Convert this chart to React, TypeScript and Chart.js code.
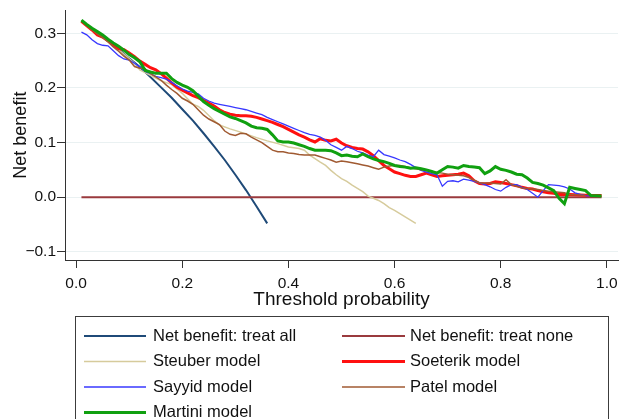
import React, { useEffect, useRef } from 'react';
import { Chart, registerables } from 'chart.js';

Chart.register(...registerables);

const FONT = '"Liberation Sans", Arial, Helvetica, sans-serif';

const xTicks = [0, 0.2, 0.4, 0.6, 0.8, 1.0];
const yTicks = [-0.1, 0, 0.1, 0.2, 0.3];
const xTitle = 'Threshold probability';
const yTitle = 'Net benefit';

const seriesLabels = [
  'Net benefit: treat all',
  'Net benefit: treat none',
  'Steuber model',
  'Soeterik model',
  'Sayyid model',
  'Patel model',
  'Martini model',
];

const treatAll: [number, number][] = [
  [0.01, 0.322], [0.02, 0.315], [0.04, 0.301], [0.06, 0.286], [0.08, 0.271], [0.10, 0.254],
  [0.12, 0.238], [0.14, 0.220], [0.16, 0.201], [0.18, 0.182], [0.20, 0.161], [0.22, 0.140],
  [0.24, 0.117], [0.26, 0.093], [0.28, 0.068], [0.30, 0.041], [0.32, 0.013], [0.34, -0.017],
  [0.36, -0.048],
];

const treatNone: [number, number][] = [[0.01, 0], [0.99, 0]];

const steuber: [number, number][] = [
  [0.01, 0.322], [0.03, 0.308], [0.05, 0.292], [0.07, 0.278], [0.09, 0.262], [0.11, 0.245],
  [0.12, 0.233], [0.13, 0.228], [0.15, 0.218], [0.16, 0.213], [0.18, 0.206], [0.19, 0.198],
  [0.20, 0.190], [0.22, 0.170], [0.23, 0.166], [0.24, 0.159], [0.26, 0.140], [0.27, 0.132],
  [0.29, 0.125], [0.31, 0.119], [0.34, 0.109], [0.36, 0.103], [0.38, 0.098], [0.40, 0.092],
  [0.42, 0.089], [0.43, 0.086], [0.44, 0.077], [0.46, 0.064], [0.47, 0.058], [0.48, 0.049],
  [0.49, 0.041], [0.50, 0.034], [0.51, 0.029], [0.52, 0.022], [0.53, 0.016], [0.54, 0.010],
  [0.55, 0.002], [0.56, -0.002], [0.57, -0.006], [0.58, -0.012], [0.59, -0.019], [0.60, -0.024],
  [0.61, -0.030], [0.62, -0.036], [0.63, -0.042], [0.64, -0.048],
];

const soeterik: [number, number][] = [
  [0.01, 0.322], [0.03, 0.306], [0.04, 0.297], [0.05, 0.293], [0.06, 0.287], [0.07, 0.279],
  [0.08, 0.272], [0.09, 0.270], [0.10, 0.264], [0.11, 0.257], [0.12, 0.249], [0.13, 0.243],
  [0.14, 0.237], [0.15, 0.233], [0.16, 0.226], [0.17, 0.218], [0.18, 0.209], [0.19, 0.201],
  [0.20, 0.196], [0.21, 0.191], [0.22, 0.186], [0.23, 0.182], [0.24, 0.177], [0.25, 0.172],
  [0.26, 0.167], [0.27, 0.160], [0.28, 0.155], [0.29, 0.152], [0.30, 0.150], [0.31, 0.149],
  [0.32, 0.149], [0.33, 0.148], [0.34, 0.146], [0.35, 0.143], [0.36, 0.140], [0.37, 0.137],
  [0.38, 0.133], [0.39, 0.129], [0.40, 0.124], [0.41, 0.119], [0.42, 0.114], [0.43, 0.110],
  [0.44, 0.105], [0.45, 0.101], [0.46, 0.107], [0.47, 0.104], [0.48, 0.103], [0.49, 0.106],
  [0.50, 0.099], [0.51, 0.094], [0.52, 0.091], [0.53, 0.089], [0.54, 0.088], [0.55, 0.083],
  [0.56, 0.076], [0.57, 0.067], [0.58, 0.058], [0.59, 0.052], [0.60, 0.046], [0.61, 0.043],
  [0.62, 0.040], [0.63, 0.038], [0.64, 0.038], [0.65, 0.041], [0.66, 0.044], [0.67, 0.041],
  [0.68, 0.038], [0.69, 0.039], [0.70, 0.040], [0.71, 0.041], [0.72, 0.042], [0.73, 0.044],
  [0.74, 0.039], [0.75, 0.030], [0.76, 0.025], [0.77, 0.024], [0.78, 0.025], [0.79, 0.028],
  [0.80, 0.027], [0.81, 0.025], [0.82, 0.023], [0.83, 0.021], [0.84, 0.018], [0.85, 0.016],
  [0.86, 0.015], [0.87, 0.012], [0.88, 0.010], [0.89, 0.008], [0.90, 0.007], [0.91, 0.005],
  [0.93, 0.005], [0.95, 0.004], [0.97, 0.003], [0.99, 0.003],
];

const sayyid: [number, number][] = [
  [0.01, 0.302], [0.02, 0.297], [0.03, 0.288], [0.04, 0.281], [0.05, 0.278], [0.06, 0.277],
  [0.07, 0.268], [0.08, 0.259], [0.09, 0.253], [0.10, 0.251], [0.11, 0.245], [0.12, 0.238],
  [0.13, 0.230], [0.14, 0.226], [0.15, 0.221], [0.16, 0.219], [0.17, 0.216], [0.18, 0.210],
  [0.19, 0.204], [0.20, 0.198], [0.21, 0.194], [0.22, 0.192], [0.23, 0.189], [0.24, 0.181],
  [0.25, 0.176], [0.26, 0.172], [0.27, 0.170], [0.28, 0.168], [0.29, 0.166], [0.30, 0.164],
  [0.31, 0.162], [0.32, 0.160], [0.33, 0.157], [0.34, 0.154], [0.35, 0.151], [0.36, 0.146],
  [0.37, 0.142], [0.38, 0.138], [0.39, 0.134], [0.40, 0.130], [0.41, 0.126], [0.42, 0.122],
  [0.43, 0.118], [0.44, 0.115], [0.45, 0.113], [0.46, 0.110], [0.47, 0.104], [0.48, 0.096],
  [0.49, 0.091], [0.50, 0.086], [0.51, 0.093], [0.52, 0.089], [0.53, 0.084], [0.54, 0.081],
  [0.55, 0.077], [0.56, 0.074], [0.57, 0.086], [0.58, 0.078], [0.59, 0.075], [0.60, 0.072],
  [0.61, 0.068], [0.62, 0.065], [0.63, 0.060], [0.64, 0.054], [0.65, 0.049], [0.66, 0.046],
  [0.67, 0.043], [0.68, 0.041], [0.69, 0.020], [0.70, 0.029], [0.71, 0.030], [0.72, 0.028],
  [0.73, 0.033], [0.74, 0.031], [0.75, 0.029], [0.76, 0.026], [0.77, 0.023], [0.78, 0.019],
  [0.79, 0.014], [0.80, 0.011], [0.81, 0.018], [0.82, 0.023], [0.83, 0.023], [0.84, 0.018],
  [0.85, 0.014], [0.86, 0.007], [0.87, 0.000], [0.88, 0.012], [0.89, 0.023], [0.90, 0.022],
  [0.91, 0.021], [0.92, 0.019], [0.93, 0.015], [0.94, 0.008], [0.95, 0.005], [0.96, 0.003],
  [0.97, 0.002],
];

const patel: [number, number][] = [
  [0.01, 0.322], [0.03, 0.306], [0.04, 0.299], [0.05, 0.292], [0.06, 0.284], [0.07, 0.275],
  [0.08, 0.267], [0.09, 0.258], [0.10, 0.251], [0.11, 0.239], [0.12, 0.236], [0.13, 0.235],
  [0.14, 0.226], [0.15, 0.220], [0.16, 0.214], [0.17, 0.205], [0.18, 0.197], [0.19, 0.190],
  [0.20, 0.181], [0.21, 0.176], [0.22, 0.170], [0.23, 0.160], [0.24, 0.150], [0.25, 0.143],
  [0.26, 0.138], [0.27, 0.133], [0.28, 0.121], [0.29, 0.115], [0.30, 0.113], [0.31, 0.117],
  [0.32, 0.116], [0.33, 0.110], [0.34, 0.105], [0.35, 0.100], [0.36, 0.093], [0.37, 0.086],
  [0.38, 0.083], [0.39, 0.083], [0.40, 0.081], [0.41, 0.080], [0.42, 0.078], [0.43, 0.077],
  [0.44, 0.077], [0.45, 0.077], [0.46, 0.074], [0.47, 0.071], [0.48, 0.068], [0.49, 0.064],
  [0.50, 0.066], [0.51, 0.065], [0.52, 0.063], [0.53, 0.061], [0.54, 0.059], [0.55, 0.057],
  [0.56, 0.054], [0.57, 0.051], [0.58, 0.055], [0.59, 0.057], [0.60, 0.058], [0.61, 0.058],
  [0.62, 0.056], [0.63, 0.054], [0.64, 0.052], [0.65, 0.050], [0.66, 0.049], [0.67, 0.047],
  [0.68, 0.045], [0.69, 0.044], [0.70, 0.042], [0.71, 0.041], [0.72, 0.040], [0.73, 0.039],
  [0.74, 0.036], [0.75, 0.031], [0.76, 0.026], [0.77, 0.026], [0.78, 0.026], [0.79, 0.025],
  [0.80, 0.024], [0.81, 0.032], [0.82, 0.023], [0.83, 0.020], [0.84, 0.017], [0.85, 0.016],
  [0.86, 0.015], [0.87, 0.014], [0.88, 0.012], [0.89, 0.011], [0.90, 0.010], [0.92, 0.008],
  [0.93, 0.005], [0.95, 0.004], [0.96, 0.003],
];

const martini: [number, number][] = [
  [0.01, 0.324], [0.02, 0.316], [0.03, 0.309], [0.04, 0.303], [0.05, 0.297], [0.06, 0.289],
  [0.07, 0.282], [0.08, 0.276], [0.09, 0.269], [0.10, 0.261], [0.11, 0.255], [0.12, 0.248],
  [0.13, 0.232], [0.14, 0.229], [0.15, 0.227], [0.16, 0.227], [0.17, 0.227], [0.18, 0.217],
  [0.19, 0.210], [0.20, 0.205], [0.21, 0.201], [0.22, 0.195], [0.23, 0.185], [0.24, 0.175],
  [0.25, 0.168], [0.26, 0.162], [0.27, 0.157], [0.28, 0.152], [0.29, 0.147], [0.30, 0.144],
  [0.31, 0.140], [0.32, 0.136], [0.33, 0.130], [0.34, 0.127], [0.35, 0.126], [0.36, 0.124],
  [0.37, 0.114], [0.38, 0.103], [0.39, 0.101], [0.40, 0.101], [0.41, 0.099], [0.42, 0.096],
  [0.43, 0.093], [0.44, 0.089], [0.45, 0.086], [0.46, 0.086], [0.47, 0.086], [0.48, 0.085],
  [0.49, 0.081], [0.50, 0.076], [0.51, 0.077], [0.52, 0.075], [0.53, 0.074], [0.54, 0.079],
  [0.55, 0.074], [0.56, 0.070], [0.57, 0.067], [0.58, 0.065], [0.59, 0.062], [0.60, 0.058],
  [0.61, 0.056], [0.62, 0.055], [0.63, 0.053], [0.64, 0.054], [0.65, 0.052], [0.66, 0.050],
  [0.67, 0.047], [0.68, 0.044], [0.69, 0.050], [0.70, 0.056], [0.71, 0.055], [0.72, 0.053],
  [0.73, 0.058], [0.74, 0.056], [0.75, 0.055], [0.76, 0.054], [0.77, 0.043], [0.78, 0.048],
  [0.79, 0.056], [0.80, 0.051], [0.81, 0.049], [0.82, 0.046], [0.83, 0.042], [0.84, 0.041],
  [0.85, 0.035], [0.86, 0.027], [0.87, 0.025], [0.88, 0.022], [0.89, 0.017], [0.90, 0.012],
  [0.91, -0.002], [0.92, -0.012], [0.93, 0.018], [0.94, 0.016], [0.95, 0.014], [0.96, 0.012],
  [0.97, 0.003], [0.99, 0.002],
];

const seriesData = [treatAll, treatNone, steuber, soeterik, sayyid, patel, martini];
const seriesColors = ['#1f4a78', '#9a3a3e', '#d6cb9c', '#ff1010', '#3838ff', '#a05a32', '#10a010'];
const seriesWidths = [2, 2, 1.5, 3, 1.3, 1.5, 3];

const fmt = (v: number) => {
  const r = Math.round(v * 10) / 10;
  if (r < 0) return '\u2212' + Math.abs(r).toFixed(1);
  return Math.abs(r).toFixed(1);
};

const legendPlugin = {
  id: 'boxLegend',
  afterDraw(chart: any) {
    const ctx = chart.ctx as CanvasRenderingContext2D;
    ctx.save();
    ctx.strokeStyle = '#3c3c3c';
    ctx.lineWidth = 1;
    ctx.strokeRect(75.5, 316.5, 533, 120);
    const cols = [
      { l0: 84, l1: 146, tx: 153 },
      { l0: 342, l1: 405, tx: 410 },
    ];
    const rows = [336, 361.5, 387, 412.5];
    chart.data.datasets.forEach((ds: any, i: number) => {
      const c = cols[i % 2];
      const y = rows[Math.floor(i / 2)];
      ctx.strokeStyle = ds.borderColor;
      ctx.lineWidth = ds.borderWidth;
      ctx.beginPath();
      ctx.moveTo(c.l0, y);
      ctx.lineTo(c.l1, y);
      ctx.stroke();
      ctx.fillStyle = '#111';
      ctx.font = `16.5px ${FONT}`;
      ctx.textAlign = 'left';
      ctx.textBaseline = 'middle';
      ctx.fillText(ds.label, c.tx, y);
    });
    ctx.restore();
  },
};

export default function App() {
  const ref = useRef<HTMLCanvasElement | null>(null);

  useEffect(() => {
    if (!ref.current) return;
    const datasets = seriesData.map((d, i) => ({
      label: seriesLabels[i],
      data: d.map(([x, y]) => ({ x, y })),
      borderColor: seriesColors[i],
      backgroundColor: seriesColors[i],
      borderWidth: seriesWidths[i],
      pointRadius: 0,
      tension: 0,
      fill: false,
      order: seriesData.length - i,
    }));
    const chart = new Chart(ref.current, {
      type: 'line',
      data: { datasets },
      options: {
        responsive: false,
        animation: false,
        devicePixelRatio: 1,
        layout: { autoPadding: false, padding: { left: 0, top: 6, right: 11, bottom: 100 } },
        plugins: { legend: { display: false }, tooltip: { enabled: false } },
        scales: {
          x: {
            type: 'linear',
            min: -0.021,
            max: 1.021,
            afterBuildTicks: (s: any) => { s.ticks = xTicks.map((v) => ({ value: v })); },
            afterFit: (s: any) => { s.height = 59; },
            ticks: {
              callback: (v: any) => fmt(Number(v)),
              font: { family: FONT, size: 15.5 },
              color: '#111',
              padding: 6,
              maxRotation: 0,
              autoSkip: false,
            },
            grid: { drawOnChartArea: false, drawTicks: true, tickLength: 8, tickColor: '#333', tickWidth: 1 },
            border: { display: true, color: '#333', width: 1 },
            title: {
              display: true,
              text: xTitle,
              font: { family: FONT, size: 19 },
              color: '#111',
              padding: { top: 0, bottom: 7.6 },
            },
          },
          y: {
            type: 'linear',
            min: -0.115,
            max: 0.342,
            afterBuildTicks: (s: any) => { s.ticks = yTicks.map((v) => ({ value: v })); },
            afterFit: (s: any) => { s.width = 65; },
            ticks: {
              callback: (v: any) => fmt(Number(v)),
              font: { family: FONT, size: 15.5 },
              color: '#111',
              padding: 1,
              autoSkip: false,
            },
            grid: { drawOnChartArea: true, color: '#eaf1f2', lineWidth: 1, drawTicks: true, tickLength: 8, tickColor: '#333', tickWidth: 1 },
            border: { display: true, color: '#333', width: 1 },
            title: {
              display: true,
              text: yTitle,
              font: { family: FONT, size: 18 },
              color: '#111',
              padding: { top: 10, bottom: 0 },
            },
          },
        },
      },
      plugins: [legendPlugin],
    });
    return () => chart.destroy();
  }, []);

  return (
    <div style={{ position: 'fixed', left: 0, top: 0, width: 629, height: 419, background: '#fff' }}>
      <canvas ref={ref} width={629} height={419} style={{ display: 'block', width: 629, height: 419 }} />
    </div>
  );
}
